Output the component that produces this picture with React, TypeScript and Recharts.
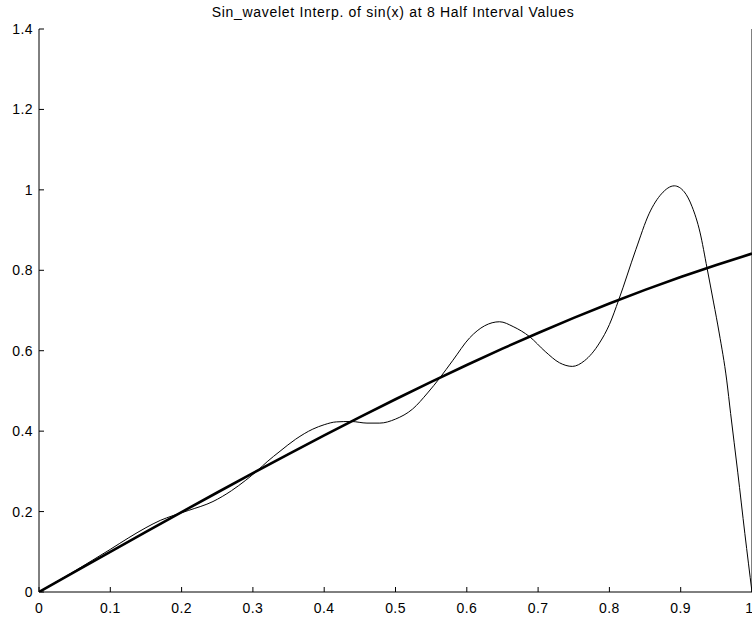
import React from 'react';
import { LineChart, Line, XAxis, YAxis } from 'recharts';

// x positions and the values
const sinX = [0, 0.05, 0.1, 0.15, 0.2, 0.25, 0.3, 0.35, 0.4, 0.45, 0.5, 0.55, 0.6, 0.65, 0.7, 0.75, 0.8, 0.85, 0.9, 0.95, 1.0];
const sinY = [0, 0.05, 0.0998, 0.1494, 0.1987, 0.2474, 0.2955, 0.3429, 0.3894, 0.435, 0.4794, 0.5227, 0.5646, 0.6052, 0.6442, 0.6816, 0.7174, 0.7513, 0.7833, 0.8134, 0.8415];

const interpX = [
  0, 0.025, 0.05, 0.075, 0.1, 0.125, 0.15, 0.17, 0.188, 0.21, 0.244, 0.27, 0.29, 0.307, 0.32, 0.338,
  0.36, 0.384, 0.4, 0.417, 0.438, 0.46, 0.478, 0.5, 0.524, 0.545, 0.562, 0.58, 0.604, 0.625, 0.646,
  0.665, 0.688, 0.71, 0.73, 0.748, 0.765, 0.786, 0.8, 0.813, 0.837, 0.856, 0.873, 0.891, 0.905, 0.916,
  0.927, 0.937, 0.946, 0.954, 0.9645, 0.97, 0.98, 0.99, 1.0,
];
const interpY = [
  0, 0.026, 0.052, 0.079, 0.106, 0.134, 0.16, 0.178, 0.19, 0.203, 0.225, 0.252, 0.278, 0.303, 0.324, 0.35,
  0.38, 0.405, 0.416, 0.423, 0.424, 0.42, 0.42, 0.43, 0.455, 0.495, 0.532, 0.575, 0.632, 0.662, 0.672,
  0.66, 0.635, 0.598, 0.57, 0.561, 0.575, 0.619, 0.665, 0.726, 0.851, 0.942, 0.99, 1.01, 0.995, 0.958,
  0.895, 0.805, 0.721, 0.644, 0.527, 0.444, 0.298, 0.145, 0,
];

const xTicks = [0, 0.1, 0.2, 0.3, 0.4, 0.5, 0.6, 0.7, 0.8, 0.9, 1];
const yTicks = [0, 0.2, 0.4, 0.6, 0.8, 1, 1.2, 1.4];

const sinData = sinX.map((x, i) => ({ x, y: sinY[i] }));
const interpData = interpX.map((x, i) => ({ x, y: interpY[i] }));

const font = 'Liberation Sans, Arial, sans-serif';
const tickStyle = { fill: '#000', fontSize: 14, fontFamily: font, letterSpacing: 0.4 };

export default function App() {
  return (
    <div style={{ position: 'absolute', left: 0, top: 0, width: 752, height: 617, overflow: 'hidden', background: '#fff' }}>
      <div
        style={{
          position: 'absolute',
          top: 4,
          left: 393,
          transform: 'translateX(-50%)',
          whiteSpace: 'nowrap',
          fontFamily: font,
          fontSize: 14,
          letterSpacing: 0.7,
          lineHeight: '16px',
          color: '#000',
        }}
      >
        Sin_wavelet Interp. of sin(x) at 8 Half Interval Values
      </div>
      <LineChart width={753} height={617} margin={{ top: 29, right: 0, bottom: 0, left: 0 }}>
        <XAxis
          dataKey="x"
          type="number"
          domain={[0, 1]}
          ticks={xTicks}
          tickFormatter={(v: number) => String(v)}
          tickSize={-5}
          tickMargin={16}
          height={25}
          stroke="#000"
          tickLine={{ stroke: '#000' }}
          tick={tickStyle}
          allowDataOverflow
        />
        <XAxis
          xAxisId="top"
          orientation="top"
          type="number"
          domain={[0, 1]}
          ticks={xTicks}
          tickSize={-5}
          tick={false}
          height={0}
          stroke="#000"
          tickLine={{ stroke: '#000' }}
        />
        <YAxis
          type="number"
          domain={[0, 1.4]}
          ticks={yTicks}
          tickFormatter={(v: number) => String(v)}
          tickSize={-5}
          tickMargin={11}
          width={39}
          stroke="#000"
          tickLine={{ stroke: '#000' }}
          tick={tickStyle}
          allowDataOverflow
        />
        <YAxis
          yAxisId="right"
          orientation="right"
          type="number"
          domain={[0, 1.4]}
          ticks={yTicks}
          tickSize={-5}
          tick={false}
          width={1}
          stroke="#000"
          tickLine={{ stroke: '#000' }}
        />
        <Line
          data={sinData}
          dataKey="y"
          type="linear"
          stroke="#000"
          strokeWidth={2.6}
          dot={false}
          isAnimationActive={false}
        />
        <Line
          data={interpData}
          dataKey="y"
          type="monotone"
          stroke="#000"
          strokeWidth={1}
          dot={false}
          isAnimationActive={false}
        />
      </LineChart>
    </div>
  );
}
